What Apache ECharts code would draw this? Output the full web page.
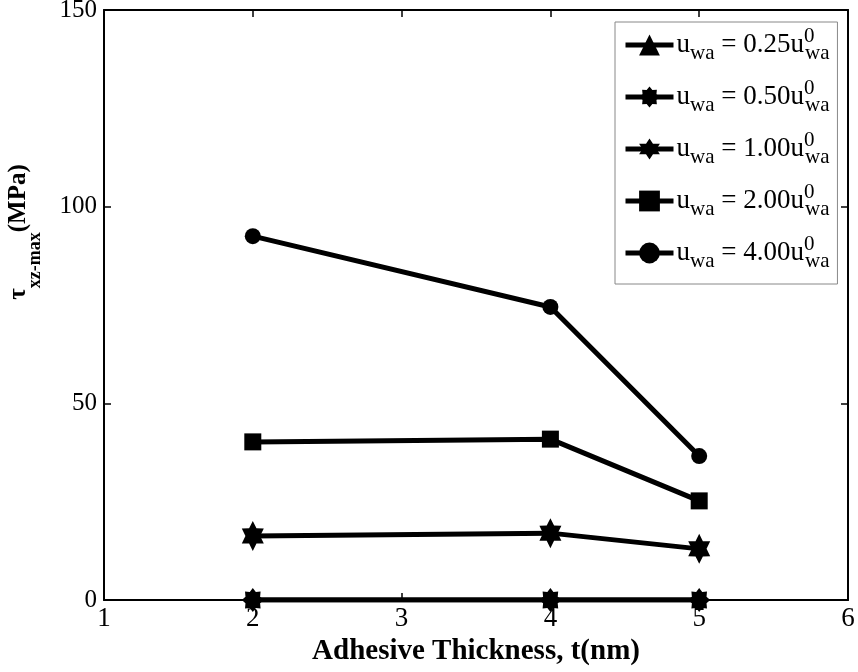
<!DOCTYPE html>
<html>
<head>
<meta charset="utf-8">
<script src="https://cdn.jsdelivr.net/npm/echarts@6/dist/echarts.min.js"></script>
<style>html,body{margin:0;padding:0;background:#fff}#c{width:858px;height:672px}</style>
</head>
<body>
<div id="c"></div>
<script>
const thickness = [2, 4, 5];
const seriesNames = ['0.25', '0.50', '1.00', '2.00', '4.00'];
const u025 = [0, 0, 0];
const u050 = [0, 0, 0];
const u100 = [16.3, 17.0, 13.0];
const u200 = [40.2, 40.9, 25.2];
const u400 = [92.5, 74.5, 36.6];
const xTicks = [1, 2, 3, 4, 5, 6];
const yTicks = [0, 50, 100, 150];

const HEXAGRAM = 'path://M50,0 L64.5,24.9 L93.3,25 L79,50 L93.3,75 L64.5,75.1 L50,100 L35.5,75.1 L6.7,75 L21,50 L6.7,25 L35.5,24.9 Z';
const ASTERISK = 'path://M50,0 L63.8,16.7 L85.4,14.6 L83.3,36.2 L100,50 L83.3,63.8 L85.4,85.4 L63.8,83.3 L50,100 L36.2,83.3 L14.6,85.4 L16.7,63.8 L0,50 L16.7,36.2 L14.6,14.6 L36.2,16.7 Z';

const allValues = [u025, u050, u100, u200, u400];
const symbols = ['triangle', ASTERISK, HEXAGRAM, 'rect', 'circle'];
const symbolSizes = [14, [22, 24], [22, 30], 17, 16];

const FONT = '"Liberation Serif","Times New Roman",serif';

const series = allValues.map((vals, i) => ({
  name: seriesNames[i],
  type: 'line',
  data: thickness.map((t, j) => [t, vals[j]]),
  symbol: symbols[i],
  symbolSize: symbolSizes[i],
  showAllSymbol: true,
  lineStyle: { color: '#000', width: 5 },
  itemStyle: { color: '#000', borderColor: '#000', borderWidth: 0 },
  z: 2 + i,
  animation: false
}));

const chart = echarts.init(document.getElementById('c'));
const tickStyle = { show: true, inside: true, length: 7, lineStyle: { color: '#000', width: 1.5 } };
chart.setOption({
  backgroundColor: '#fff',
  animation: false,
  grid: { left: 104, right: 10, top: 10, bottom: 72, show: false, containLabel: false, outerBoundsMode: 'none' },
  xAxis: [{
    type: 'value', min: xTicks[0], max: xTicks[xTicks.length - 1], interval: 1,
    axisLine: { show: true, onZero: false, lineStyle: { color: '#000', width: 2 } },
    axisTick: tickStyle,
    splitLine: { show: false },
    axisLabel: { color: '#000', fontFamily: FONT, fontSize: 27, margin: 5 },
    name: 'Adhesive Thickness, t(nm)',
    nameLocation: 'middle',
    nameGap: 36,
    nameTextStyle: { color: '#000', fontFamily: FONT, fontSize: 29, fontWeight: 'bold' }
  }, {
    type: 'value', position: 'top', min: xTicks[0], max: xTicks[xTicks.length - 1], interval: 1,
    axisLine: { show: true, onZero: false, lineStyle: { color: '#000', width: 2 } },
    axisTick: tickStyle, axisLabel: { show: false }, splitLine: { show: false }
  }],
  yAxis: [{
    type: 'value', min: yTicks[0], max: yTicks[yTicks.length - 1], interval: 50,
    axisLine: { show: true, onZero: false, lineStyle: { color: '#000', width: 2 } },
    axisTick: tickStyle,
    splitLine: { show: false },
    axisLabel: { color: '#000', fontFamily: FONT, fontSize: 25, margin: 7 },
    name: '{t|τ}{s|xz-max}{t|(MPa)}',
    nameLocation: 'middle',
    nameRotate: 90,
    nameGap: 60,
    nameTextStyle: {
      color: '#000', fontFamily: FONT, fontSize: 25, fontWeight: 'bold',
      padding: [0, 0, 0, 146],
      rich: {
        t: { fontFamily: FONT, fontSize: 25, fontWeight: 'bold', color: '#000', lineHeight: 38, verticalAlign: 'top' },
        s: { fontFamily: FONT, fontSize: 18, fontWeight: 'bold', color: '#000', lineHeight: 38, verticalAlign: 'bottom' }
      }
    }
  }, {
    type: 'value', position: 'right', min: yTicks[0], max: yTicks[yTicks.length - 1], interval: 50,
    axisLine: { show: true, onZero: false, lineStyle: { color: '#000', width: 2 } },
    axisTick: tickStyle, axisLabel: { show: false }, splitLine: { show: false }
  }],
  legend: {
    orient: 'vertical',
    left: 615, top: 22,
    padding: [4, 8, 12, 8],
    itemGap: 14,
    itemWidth: 48, itemHeight: 26,
    backgroundColor: '#fff',
    borderColor: '#888', borderWidth: 1,
    data: seriesNames,
    lineStyle: { width: 5, color: '#000' },
    formatter: name => 'u{sub|wa} = ' + name + 'u{sup|0}{sub|wa}',
    textStyle: {
      color: '#000', fontFamily: FONT, fontSize: 27, lineHeight: 38, padding: [0, 0, 0, -2],
      rich: {
        sub: { fontFamily: FONT, fontSize: 21, color: '#000', lineHeight: 33, verticalAlign: 'bottom' },
        sup: { fontFamily: FONT, fontSize: 21, color: '#000', lineHeight: 38, verticalAlign: 'top', width: 1 }
      }
    }
  },
  series: series
});
</script>
</body>
</html>
